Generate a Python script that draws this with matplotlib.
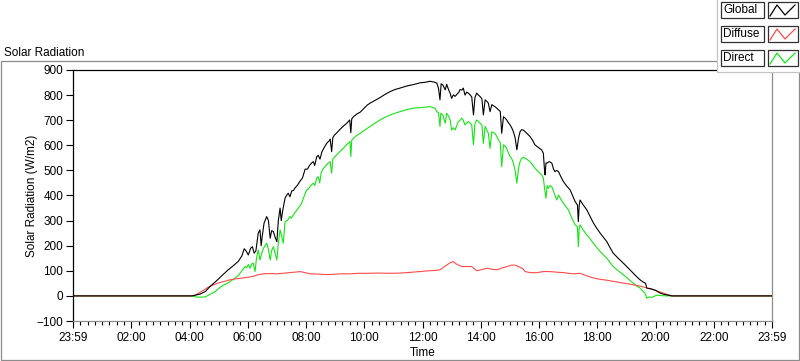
import matplotlib
matplotlib.use('Agg')
import matplotlib.pyplot as plt
from matplotlib.patches import Rectangle
from matplotlib.lines import Line2D
from matplotlib.ticker import MultipleLocator

plt.rcParams['font.family'] = ['Liberation Sans', 'DejaVu Sans']
plt.rcParams['font.size'] = 8

# --- data (hours since midnight, W/m2) ---
global_t = [0, 4.08, 4.36, 4.55, 4.70, 4.85, 5.00, 5.16, 5.33, 5.50, 5.68, 5.80, 5.88, 5.95,
            6.02, 6.10, 6.16, 6.22, 6.28, 6.36, 6.42, 6.46, 6.50, 6.56, 6.65, 6.71, 6.77, 6.82,
            6.88, 6.95, 7.00, 7.05, 7.11, 7.15, 7.20, 7.28, 7.33, 7.39, 7.45, 7.51, 7.57, 7.62,
            7.70, 7.80, 7.88, 7.97, 8.05, 8.12, 8.20, 8.25, 8.30, 8.37, 8.42, 8.48, 8.55, 8.62,
            8.71, 8.80, 8.83, 8.88, 8.92, 8.97, 9.06, 9.18, 9.28, 9.40, 9.50, 9.54, 9.57, 9.63,
            9.75, 9.86, 10.0, 10.1, 10.2, 10.31, 10.54, 10.7, 10.89, 11.05, 11.23, 11.45, 11.69,
            11.92, 12.09, 12.26, 12.40, 12.49, 12.55, 12.60, 12.64, 12.70, 12.78, 12.83, 12.90,
            12.95, 13.00, 13.06, 13.12, 13.18, 13.25, 13.29, 13.35, 13.40, 13.46, 13.52, 13.58,
            13.64, 13.69, 13.75, 13.80, 13.86, 13.92, 13.98, 14.04, 14.09, 14.15, 14.21, 14.26,
            14.32, 14.38, 14.44, 14.49, 14.55, 14.61, 14.67, 14.72, 14.78, 14.84, 14.89, 14.95,
            15.01, 15.07, 15.12, 15.18, 15.24, 15.30, 15.35, 15.40, 15.46, 15.58, 15.69, 15.78,
            15.86, 15.97, 16.09, 16.15, 16.19, 16.21, 16.24, 16.27, 16.35, 16.44, 16.50, 16.55,
            16.61, 16.67, 16.75, 16.84, 16.95, 17.07, 17.15, 17.24, 17.32, 17.35, 17.38, 17.41,
            17.52, 17.64, 17.75, 17.87, 17.98, 18.10, 18.22, 18.33, 18.44, 18.55, 18.72, 18.90,
            19.07, 19.24, 19.35, 19.47, 19.58, 19.66, 19.70, 19.85, 20.0, 20.16, 20.30, 20.39,
            20.56, 24]
global_v = [0, 0, 7, 18, 37, 52, 68, 86, 104, 120, 138, 160, 188, 178,
            163, 190, 196, 170, 180, 250, 263, 200, 240, 290, 316, 300, 230, 260,
            256, 230, 216, 300, 350, 300, 340, 389, 400, 409, 395, 418, 420, 430,
            440, 458, 470, 505, 505, 520, 530, 535, 520, 555, 560, 545, 575, 590,
            608, 618, 625, 575, 630, 640, 650, 665, 676, 688, 701, 650, 705, 714,
            725, 732, 748, 760, 768, 775, 790, 802, 814, 822, 828, 836, 842,
            849, 851, 855, 852, 848, 827, 781, 845, 840, 821, 843, 820,
            807, 787, 801, 795, 803, 812, 822, 820, 828, 800, 812, 807,
            800, 793, 721, 790, 808, 800, 794, 785, 721, 781, 775, 768,
            734, 762, 757, 754, 748, 741, 735, 648, 714, 708, 701, 690,
            681, 668, 654, 630, 582, 630, 654, 662, 661, 648, 635, 620,
            602, 592, 582, 568, 500, 482, 530, 529, 535, 529, 505, 495,
            500, 495, 475, 455, 438, 422, 400, 376, 362, 296, 360, 382,
            362, 343, 318, 290, 270, 250, 232, 216, 192, 170, 150, 130,
            110, 90, 77, 64, 55, 50, 31, 28, 22, 11, 6, 4,
            0, 0]

direct_t = [0, 4.08, 4.2, 4.35, 4.55, 4.65, 4.80, 4.88, 5.05, 5.20, 5.33, 5.50, 5.60, 5.68,
            5.80, 5.91, 5.96, 6.02, 6.08, 6.14, 6.19, 6.25, 6.30, 6.36, 6.42, 6.48, 6.54, 6.60,
            6.65, 6.71, 6.77, 6.82, 6.88, 6.94, 7.00, 7.05, 7.11, 7.16, 7.22, 7.28, 7.36, 7.45,
            7.50, 7.56, 7.64, 7.73, 7.80, 7.85, 7.91, 8.02, 8.08, 8.15, 8.25, 8.30, 8.37, 8.42,
            8.47, 8.52, 8.58, 8.65, 8.75, 8.83, 8.88, 8.92, 9.0, 9.12, 9.28, 9.40, 9.51, 9.54,
            9.57, 9.63, 9.75, 9.86, 10.03, 10.2, 10.37, 10.54, 10.72, 10.89, 11.06, 11.23, 11.45,
            11.69, 11.92, 12.09, 12.26, 12.35, 12.43, 12.49, 12.55, 12.60, 12.63, 12.70, 12.78,
            12.83, 12.90, 12.95, 13.00, 13.06, 13.12, 13.18, 13.23, 13.29, 13.35, 13.40, 13.46,
            13.52, 13.58, 13.64, 13.69, 13.75, 13.80, 13.86, 13.92, 13.98, 14.04, 14.09, 14.15,
            14.21, 14.26, 14.32, 14.38, 14.44, 14.49, 14.55, 14.61, 14.67, 14.72, 14.78, 14.84,
            14.89, 14.95, 15.01, 15.07, 15.12, 15.18, 15.24, 15.30, 15.35, 15.40, 15.46, 15.58,
            15.69, 15.78, 15.86, 15.97, 16.09, 16.15, 16.20, 16.24, 16.28, 16.32, 16.38, 16.44,
            16.52, 16.61, 16.67, 16.75, 16.84, 16.92, 17.01, 17.12, 17.24, 17.32, 17.35, 17.38,
            17.41, 17.52, 17.64, 17.75, 17.87, 17.98, 18.10, 18.22, 18.33, 18.44, 18.55, 18.72,
            18.90, 19.07, 19.24, 19.35, 19.47, 19.56, 19.64, 19.70, 19.78, 19.87, 19.95, 20.04,
            20.2, 20.39, 20.56, 24]
direct_v = [0, 0, -4, -5, -4, 3, 12, 17, 34, 45, 52, 66, 74, 82,
            100, 117, 112, 125, 110, 128, 130, 97, 150, 183, 143, 170, 190, 200,
            210, 185, 143, 180, 196, 170, 143, 210, 263, 240, 210, 296, 300, 316,
            310, 322, 335, 349, 360, 369, 389, 422, 425, 438, 449, 440, 470, 475,
            450, 490, 505, 515, 528, 535, 489, 545, 555, 570, 588, 603, 615, 555,
            620, 628, 640, 648, 662, 675, 688, 701, 712, 721, 728, 734, 742,
            748, 750, 752, 754, 750, 748, 734, 730, 675, 728, 720, 688,
            728, 715, 701, 661, 670, 661, 680, 694, 700, 708, 700, 681,
            690, 694, 688, 681, 602, 685, 701, 695, 688, 680, 608, 675,
            660, 648, 588, 654, 650, 648, 635, 621, 610, 515, 602, 596,
            588, 570, 555, 545, 529, 500, 449, 510, 535, 548, 552, 545,
            535, 522, 509, 495, 482, 469, 420, 389, 440, 429, 440, 435,
            410, 382, 402, 385, 369, 356, 343, 312, 283, 276, 196, 270,
            283, 262, 243, 228, 210, 193, 177, 163, 150, 133, 117, 100,
            84, 67, 50, 40, 31, 20, 11, -9, -4, -6, -2, 3,
            1, 0, 0, 0]

diffuse_t = [0, 4.08, 4.20, 4.34, 4.50, 4.65, 4.82, 5.0, 5.2, 5.39, 5.6, 5.85, 6.0, 6.19,
             6.35, 6.54, 6.75, 7.0, 7.2, 7.45, 7.65, 7.8, 7.95, 8.14, 8.4, 8.7, 8.94, 9.2,
             9.51, 9.8, 10.08, 10.5, 10.9, 11.23, 11.6, 11.92, 12.2, 12.49, 12.60, 12.83,
             12.95, 13.06, 13.15, 13.23, 13.35, 13.52, 13.69, 13.86, 14.0, 14.21, 14.40, 14.55,
             14.78, 15.0, 15.07, 15.2, 15.3, 15.45, 15.52, 15.69, 15.9, 16.15, 16.3, 16.49,
             16.65, 16.84, 17.0, 17.18, 17.41, 17.5, 17.64, 17.85, 18.1, 18.3, 18.55, 18.8,
             19.01, 19.25, 19.47, 19.7, 19.93, 20.1, 20.27, 20.45, 20.56, 24]
diffuse_v = [0, 0, 3, 13, 24, 35, 44, 52, 58, 64, 68, 72, 74, 78,
             84, 88, 89, 88, 90, 93, 95, 97, 93, 88, 87, 85, 86, 88,
             88, 90, 90, 91, 90, 91, 94, 97, 100, 102, 104, 123,
             132, 137, 128, 123, 117, 117, 117, 100, 104, 110, 106, 104,
             113, 120, 123, 122, 117, 108, 97, 93, 92, 97, 97, 96,
             94, 93, 90, 88, 90, 86, 80, 72, 66, 63, 58, 53,
             49, 44, 39, 32, 25, 18, 11, 4, 0, 0]

hour_ticks = list(range(0, 25, 2))
hour_labels = ['23:59', '02:00', '04:00', '06:00', '08:00', '10:00', '12:00',
               '14:00', '16:00', '18:00', '20:00', '22:00', '23:59']
series_names = ['Global', 'Diffuse', 'Direct']
series_colors = ['#000000', '#ff4a4a', '#14e614']

W, H = 800, 361
fig = plt.figure(figsize=(8, 3.61), dpi=100)
fig.patch.set_facecolor('white')

def fx(x):
    return x / W

def fy(y):
    return 1 - y / H

ax = fig.add_axes([fx(73), fy(321), fx(772) - fx(73), fy(70) - fy(321)])
ax.plot(direct_t, direct_v, color=series_colors[2], lw=0.8)
ax.plot(diffuse_t, diffuse_v, color=series_colors[1], lw=0.8)
ax.plot(global_t, global_v, color=series_colors[0], lw=0.8)

ax.set_xlim(0, 24)
ax.set_ylim(-100, 900)
ax.set_xticks(hour_ticks)
ax.set_xticklabels(hour_labels)
ax.xaxis.set_minor_locator(MultipleLocator(0.25))
ax.set_yticks(range(-100, 901, 100))

gray = '#8c8c8c'
for s in ['left', 'top']:
    ax.spines[s].set_color('black')
for s in ['bottom', 'right']:
    ax.spines[s].set_color(gray)
for s in ax.spines.values():
    s.set_linewidth(0.9)

ax.tick_params(axis='x', which='major', length=5, width=0.8, pad=3, color='black')
ax.tick_params(axis='x', which='minor', length=3, width=0.8, color='black')
ax.tick_params(axis='y', which='major', length=5, width=0.8, pad=2, color='black')
ax.tick_params(labelsize=8.5)

ax.set_xlabel('Time', fontsize=8.5, labelpad=2)
ax.set_ylabel('Solar Radiation (W/m2)', fontsize=8.5, labelpad=-1)

# outer frame and caption
fig.add_artist(Rectangle((fx(0.5), fy(360)), fx(799) - fx(0.5), fy(61) - fy(360),
                         transform=fig.transFigure, fill=False, edgecolor=gray, lw=0.9))
fig.text(fx(4), fy(55.5), 'Solar Radiation', fontsize=8.5, va='baseline', ha='left')

# legend panel (top right)
fig.add_artist(Rectangle((fx(717), fy(72)), fx(801) - fx(717), fy(-2) - fy(72),
                         transform=fig.transFigure, facecolor='white', edgecolor='#c4c4c4',
                         lw=0.9, zorder=10))
row_tops = [2, 26, 50]
for name, col, top in zip(series_names, series_colors, row_tops):
    fig.add_artist(Rectangle((fx(720.5), fy(top + 16)), fx(763.5) - fx(720.5), fy(top) - fy(top + 16),
                             transform=fig.transFigure, facecolor='white', edgecolor='#303030',
                             lw=0.9, zorder=11))
    fig.add_artist(Rectangle((fx(768), fy(top + 16)), fx(798) - fx(768), fy(top) - fy(top + 16),
                             transform=fig.transFigure, facecolor='white', edgecolor='#303030',
                             lw=0.9, zorder=11))
    zx = [fx(770), fx(777), fx(785), fx(795)]
    zy = [fy(top + 14), fy(top + 3), fy(top + 13), fy(top + 3)]
    fig.add_artist(Line2D(zx, zy, transform=fig.transFigure, color=col, lw=0.9, zorder=12))
    fig.text(fx(723), fy(top + 8), name, fontsize=8.5, va='center', ha='left', zorder=12)

fig.savefig('out.png', dpi=100)
